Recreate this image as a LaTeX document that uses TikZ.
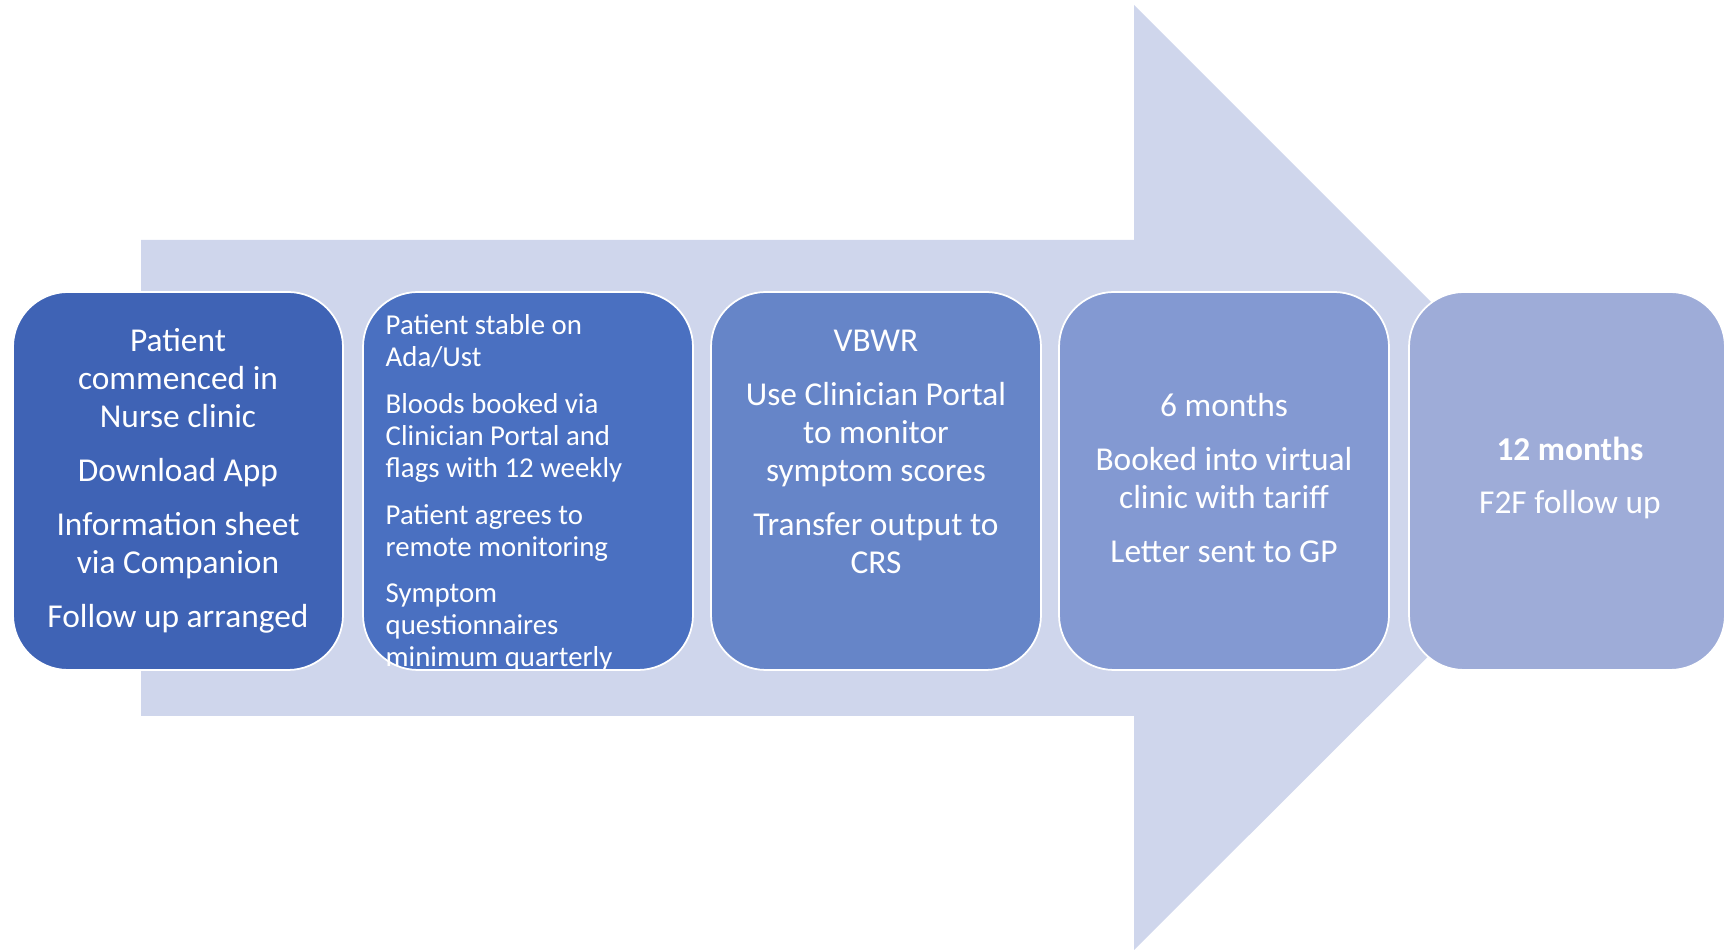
\documentclass[tikz,border=0pt]{standalone}
\usepackage{fontspec}
\setmainfont{Carlito}
\usepackage{tikz}

\definecolor{arrowblue}{HTML}{CFD6EC}
\definecolor{stageA}{HTML}{3F63B5}
\definecolor{stageB}{HTML}{4A70C1}
\definecolor{stageC}{HTML}{6685C8}
\definecolor{stageD}{HTML}{8399D2}
\definecolor{stageE}{HTML}{9EACD8}

\begin{document}
\begin{tikzpicture}[x=0.1mm,y=-0.1mm,
            stage/.style={draw=white, line width=0.5pt, rounded corners=5.5mm,
                minimum width=33mm, minimum height=37.8mm, inner sep=0pt},
            lbl/.style={text=white, align=center, inner sep=0pt,
                font=\fontsize{9.5}{10.8}\selectfont},
            small/.style={lbl, align=left, font=\fontsize{8.2}{9.1}\selectfont}]
            \useasboundingbox (0,0) rectangle (1727,950);

            % big arrow behind the stages
            \fill[arrowblue] (141,240) -- (1134,240) -- (1134,5) -- (1607,478)
                -- (1134,950) -- (1134,716) -- (141,716) -- cycle;

            \foreach \i/\x/\c in {1/178/stageA,2/528/stageB,3/876/stageC,4/1224/stageD}
            \node[stage, fill=\c] (s\i) at (\x,481) {};
            \node[stage, fill=stageE, minimum width=31.6mm] (s5) at (1567,481) {};

            \node[lbl] (t1) at (s1) {Patient\\commenced in\\Nurse clinic\\[4.6pt]
                Download App\\[4.6pt] Information sheet\\via Companion\\[4.6pt]
                Follow up arranged};
            \node[small, anchor=west] (t2) at (385,493) {Patient stable on\\Ada/Ust\\[4.2pt]
                Bloods booked via\\Clinician Portal and\\flags with 12 weekly\\[4.2pt]
                Patient agrees to\\remote monitoring\\[4.2pt]
                Symptom\\questionnaires\\minimum quarterly};
            \node[lbl] (t3) at (876,452) {VBWR\\[4.5pt] Use Clinician Portal\\to monitor\\
                symptom scores\\[4.5pt] Transfer output to\\CRS};
            \node[lbl] (t4) at (1224,478) {6 months\\[4.5pt] Booked into virtual\\
                clinic with tariff\\[4.5pt] Letter sent to GP};
            \node[lbl] (t5) at (1570,478) {\textbf{12 months}\\[4.5pt] F2F follow up};
        \end{tikzpicture}
\end{document}
